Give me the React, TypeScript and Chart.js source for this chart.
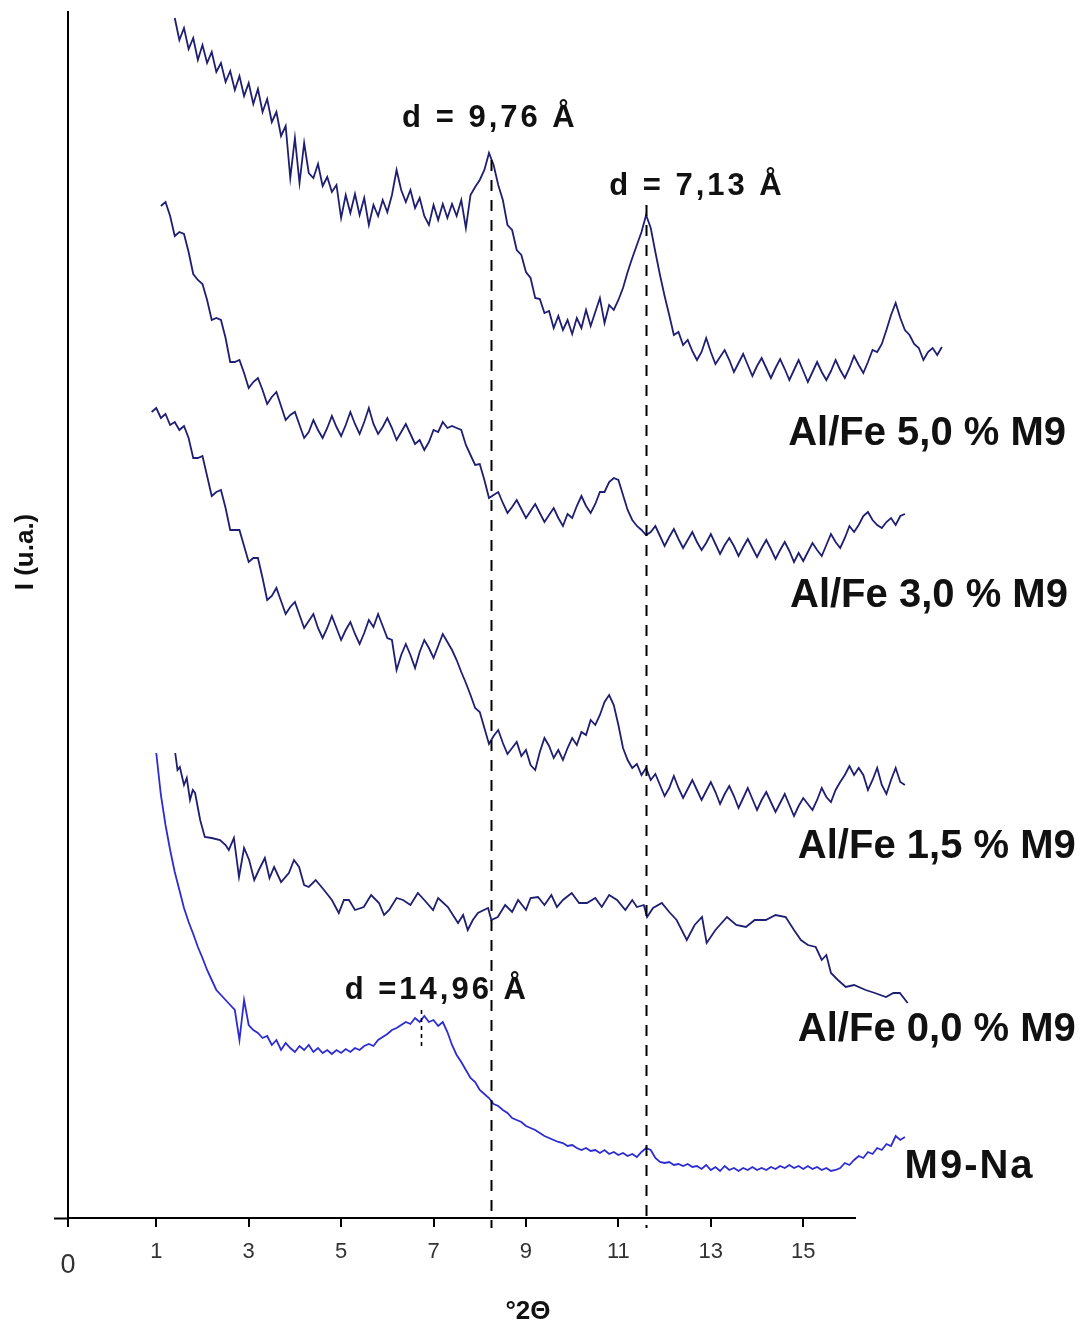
import React, { useEffect, useRef } from "react";
import { Chart, registerables } from "chart.js";

Chart.register(...registerables);

// ---- axis ranges and ticks (°2θ, arbitrary intensity units) ----
const X_MIN = -0.91;
const X_MAX = 16.12;
const Y_MIN = 0;
const Y_MAX = 120.6;
const X_TICKS = [X_MIN, 1, 3, 5, 7, 9, 11, 13, 15];
const X_TICK_LABELS = ["0", "1", "3", "5", "7", "9", "11", "13", "15"];
const STEP = 0.1;

// ---- series: Al/Fe 5,0 % M9 (x from 1.4, step 0.1) ----
const alfe50Start = 1.4;
const alfe50 = [
  120.0, 117.8, 119.0, 116.9, 118.0, 115.8,
  117.3, 115.5, 116.6, 114.6, 115.5, 113.6, 114.7, 112.8, 114.2, 112.2,
  113.5, 111.4, 112.9, 110.6, 111.9, 109.6, 110.6, 108.2, 109.2, 104.0,
  108.0, 103.5, 107.5, 104.5, 104.0, 105.4, 103.2, 104.1, 102.6, 103.3,
  100.0, 102.3, 100.5, 102.4, 100.3, 102.0, 99.3, 101.3, 100.2, 101.8,
  100.6, 102.3, 104.8, 102.8, 101.6, 102.8, 101.0, 102.0, 100.2, 99.3,
  101.3, 99.8, 101.4, 100.0, 101.4, 100.2, 101.8, 99.0, 102.3, 103.1,
  103.8, 104.8, 106.5, 105.3, 103.3, 101.8, 99.3, 98.8, 96.8, 96.3,
  94.6, 94.0, 92.0, 91.9, 90.5, 90.7, 89.0, 90.2, 88.8, 89.8,
  88.4, 90.0, 89.0, 90.8, 89.2, 90.6, 92.0, 89.5, 91.3, 90.8,
  91.8, 93.0, 94.6, 96.0, 97.3, 98.6, 100.3, 99.0, 96.6, 94.3,
  92.2, 90.3, 88.3, 88.6, 87.3, 87.8, 86.7, 85.8, 86.6, 88.0,
  86.6, 85.4, 86.1, 86.8, 85.8, 84.6, 85.5, 86.4, 85.3, 84.2,
  85.2, 86.0, 85.0, 84.0, 85.0, 85.9, 84.9, 83.8, 84.8, 85.8,
  84.7, 83.6, 84.6, 85.6, 84.6, 83.8, 84.7, 85.8, 84.8, 84.0,
  85.0, 86.2, 85.3, 84.5, 85.6, 86.8, 86.6, 87.4, 88.8, 90.3,
  91.5, 90.0, 88.8, 88.3, 87.4, 87.0, 85.8, 86.6, 87.0, 86.3,
  87.1,
];

// ---- series: Al/Fe 3,0 % M9 (x from 1.1) ----
const alfe30Start = 1.1;
const alfe30 = [
  101.2, 101.6, 100.2, 98.2, 98.6, 98.4, 96.6, 94.4, 93.8,
  93.4, 91.8, 89.8, 90.0, 89.8, 88.0, 85.6, 85.6, 85.8, 84.5,
  83.0, 83.6, 84.0, 82.8, 81.4, 82.1, 82.6, 81.2, 79.8, 80.3,
  80.6, 79.3, 78.0, 78.6, 79.8, 78.8, 78.0, 79.0, 80.2, 79.1,
  78.2, 79.3, 80.6, 79.4, 78.4, 79.6, 81.0, 79.4, 78.4, 79.1,
  80.0, 79.0, 77.8, 78.6, 79.4, 78.4, 77.4, 77.8, 76.8, 77.6,
  78.8, 78.6, 79.6, 79.0, 79.2, 79.0, 78.8, 77.3, 76.3, 75.3,
  75.4, 73.8, 72.0, 72.3, 72.6, 71.5, 70.5, 71.1, 71.8, 70.9,
  70.0, 70.7, 71.4, 70.5, 69.6, 70.3, 71.0, 70.0, 69.2, 70.4,
  70.0, 71.2, 72.2, 71.2, 70.5, 71.4, 72.6, 72.6, 73.6, 74.0,
  73.8, 72.3, 70.8, 69.8, 69.2, 68.8, 68.3, 68.6, 69.2, 68.2,
  67.2, 68.1, 68.9, 67.9, 67.0, 67.8, 68.6, 67.6, 66.8, 67.5,
  68.4, 67.4, 66.4, 67.3, 68.0, 67.2, 66.2, 67.1, 67.9, 67.0,
  66.1, 67.0, 67.8, 66.9, 65.9, 66.8, 67.6, 66.7, 65.6, 66.5,
  65.7, 66.6, 67.5, 66.8, 66.2, 67.3, 68.4, 67.6, 67.0, 68.0,
  69.2, 68.6, 69.3, 70.2, 70.6, 69.8, 69.3, 69.0, 69.6, 70.0,
  69.3, 70.2, 70.4,
];

// ---- series: Al/Fe 1,5 % M9 (x from 0.9) ----
const alfe15Start = 0.9;
const alfe15 = [
  80.6,
  81.0, 80.0, 80.4, 79.3, 79.6, 78.8, 79.2, 78.0, 76.0, 76.0,
  76.2, 74.2, 72.2, 72.6, 72.8, 71.0, 68.8, 68.8, 68.8, 67.2,
  65.6, 66.0, 66.0, 64.0, 61.8, 62.2, 63.0, 61.7, 60.4, 61.1,
  61.6, 60.3, 59.0, 59.7, 60.4, 59.0, 58.0, 59.0, 60.2, 59.0,
  57.8, 58.8, 59.6, 58.4, 57.4, 58.5, 59.8, 59.1, 60.4, 59.2,
  58.0, 57.8, 54.8, 56.3, 57.4, 56.3, 55.0, 56.6, 57.8, 57.0,
  56.0, 57.2, 58.4, 57.6, 56.8, 55.8, 54.6, 53.5, 52.3, 51.0,
  50.6, 49.0, 47.4, 48.2, 48.8, 47.5, 46.4, 47.0, 47.6, 46.2,
  46.8, 45.3, 44.8, 46.6, 48.0, 47.2, 46.0, 46.8, 45.8, 47.0,
  48.0, 47.3, 48.6, 48.3, 49.8, 49.3, 50.3, 51.6, 52.3, 51.3,
  49.3, 47.0, 45.8, 45.0, 45.4, 44.3, 45.0, 43.8, 44.4, 43.3,
  42.2, 43.0, 44.2, 43.0, 42.0, 42.9, 43.8, 42.8, 41.8, 42.7,
  43.6, 42.6, 41.4, 42.4, 43.2, 42.2, 41.0, 42.0, 43.0, 41.9,
  40.8, 41.8, 42.6, 41.6, 40.6, 41.5, 42.4, 41.3, 40.2, 41.2,
  42.0, 41.4, 40.8, 41.8, 43.0, 42.1, 41.6, 42.8, 43.6, 44.3,
  45.2, 44.3, 45.0, 44.3, 42.8, 43.8, 45.0, 43.3, 42.4, 43.8,
  45.0, 43.6, 43.3,
];

// ---- series: Al/Fe 0,0 % M9 (irregular x) ----
const alfe00X = [
  1.41, 1.46, 1.51, 1.6, 1.66, 1.73, 1.79, 1.84, 1.95, 2.05,
  2.2, 2.38, 2.5, 2.57, 2.68, 2.79, 2.9, 3.01, 3.12, 3.22,
  3.35, 3.45, 3.55, 3.7, 3.87, 3.98, 4.09, 4.2, 4.3, 4.45,
  4.63, 4.8, 4.95, 5.06, 5.17, 5.3, 5.49, 5.65, 5.82, 5.93,
  6.04, 6.2, 6.34, 6.5, 6.66, 6.8, 6.99, 7.1, 7.31, 7.53,
  7.64, 7.74, 7.85, 7.96, 8.18, 8.25, 8.39, 8.55, 8.7, 8.83,
  9.0, 9.1, 9.26, 9.4, 9.55, 9.67, 9.8, 9.99, 10.15, 10.32,
  10.5, 10.64, 10.8, 10.97, 11.15, 11.3, 11.4, 11.55, 11.62, 11.75,
  11.94, 12.1, 12.26, 12.48, 12.65, 12.81, 12.91, 13.1, 13.35, 13.55,
  13.76, 13.95, 14.19, 14.4, 14.62, 14.8, 14.95, 15.1, 15.27, 15.4,
  15.5, 15.6, 15.75, 15.92, 16.1, 16.35, 16.55, 16.79, 16.95, 17.09,
  17.26,
];
const alfe00 = [
  46.5, 44.8, 45.1, 43.3, 44.0, 41.8, 42.8, 42.5, 39.8, 38.1,
  38.0, 37.8, 37.3, 36.8, 38.0, 34.1, 37.0, 35.8, 33.8, 34.8,
  36.0, 34.0, 35.1, 33.6, 34.5, 35.8, 35.1, 33.3, 33.1, 33.8,
  32.8, 31.8, 30.5, 31.8, 31.8, 30.8, 31.1, 32.3, 31.5, 30.3,
  30.8, 32.0, 31.8, 31.3, 32.5, 31.8, 30.8, 32.0, 31.1, 29.5,
  30.3, 28.8, 29.8, 30.5, 31.0, 29.8, 30.1, 31.3, 30.6, 31.8,
  30.8, 32.0, 32.1, 31.3, 32.3, 31.1, 31.8, 32.5, 31.5, 31.5,
  32.0, 31.1, 32.3, 31.8, 30.8, 31.8, 31.1, 31.3, 30.1, 31.0,
  31.5, 30.6, 29.8, 27.8, 29.3, 30.1, 27.5, 28.8, 30.1, 29.3,
  29.1, 29.8, 29.8, 30.3, 30.1, 28.8, 27.8, 27.3, 27.1, 25.8,
  26.3, 24.5, 23.8, 23.1, 23.3, 22.8, 22.5, 22.1, 22.5, 22.5,
  21.5,
];

// ---- series: M9-Na (x from 1.0) ----
const m9naStart = 1.0;
const m9na = [
  46.5, 42.3, 39.3, 36.8, 34.6, 32.8, 31.0, 29.6, 28.4, 27.1,
  26.0, 24.8, 23.8, 22.8, 22.3, 21.8, 21.3, 20.8, 17.8, 21.8,
  19.3, 18.8, 18.5, 18.0, 18.2, 17.3, 17.8, 16.8, 17.5, 17.0,
  16.6, 17.2, 16.8, 17.3, 16.6, 17.0, 16.5, 16.8, 16.4, 16.8,
  16.5, 16.9, 16.6, 17.0, 16.8, 17.2, 17.4, 17.2, 17.8, 18.1,
  18.4, 18.8, 19.0, 19.3, 19.6, 19.4, 20.0, 19.6, 20.2, 19.6,
  19.8, 19.2, 19.6, 18.6, 17.3, 16.3, 15.6, 14.8, 14.0, 13.6,
  12.8, 12.4, 12.0, 11.4, 11.2, 10.8, 10.5, 10.0, 9.8, 9.6,
  9.2, 9.0, 8.8, 8.5, 8.2, 8.0, 7.8, 7.6, 7.5, 7.2,
  7.3, 7.0, 6.8, 7.0, 6.7, 6.8, 6.5, 6.8, 6.4, 6.6,
  6.3, 6.5, 6.2, 6.4, 6.1, 6.6, 7.0, 6.8, 6.0, 5.6,
  5.5, 5.6, 5.3, 5.4, 5.2, 5.4, 5.1, 5.2, 4.9, 5.3,
  4.8, 5.1, 4.7, 5.2, 4.8, 5.0, 4.7, 5.0, 4.8, 5.1,
  4.8, 5.0, 4.8, 5.1, 4.9, 5.2, 5.0, 5.3, 5.0, 5.2,
  4.9, 5.2, 4.9, 5.1, 4.8, 5.0, 4.7, 4.8, 5.0, 5.5,
  5.3, 5.8, 6.2, 6.0, 6.6, 6.4, 7.0, 6.8, 7.4, 7.2,
  8.2, 7.8, 8.1,
];

// ---- reference lines and annotations (data coordinates) ----
const REF_X = [8.24, 11.59];
const REF_TOP = [105.8, 101.3];
const REF_BOTTOM = -1.0;
const DOT_X = 6.73;
const DOT_RANGE = [20.8, 17.1];
const PEAK_LABELS = ["d = 9,76 Å", "d = 7,13 Å", "d =14,96 Å"];
const PEAK_LABEL_X = [8.22, 12.7, 7.07];
const PEAK_LABEL_Y = [110.0, 103.2, 22.8];
const SERIES_NAMES = ["Al/Fe 5,0 % M9", "Al/Fe 3,0 % M9", "Al/Fe 1,5 % M9", "Al/Fe 0,0 % M9", "M9-Na"];
const NAME_X = [17.68, 17.72, 17.89, 17.89, 18.6];
const NAME_Y = [78.4, 62.2, 37.1, 18.8, 5.1];
const X_TITLE = "°2Θ";
const Y_TITLE = "I (u.a.)";

const DARK = "#1e1e72";
const BLUE = "#2c2cd2";
const FONT = "'Liberation Sans', Arial, sans-serif";

function onGrid(start: number, values: number[]) {
  return values.map((y, i) => ({ x: Math.round((start + i * STEP) * 100) / 100, y }));
}
function zipXY(xs: number[], ys: number[]) {
  const n = Math.min(xs.length, ys.length);
  const out: { x: number; y: number }[] = [];
  for (let i = 0; i < n; i++) out.push({ x: xs[i], y: ys[i] });
  return out;
}

const decorPlugin = {
  id: "xrdDecor",
  afterDatasetsDraw(chart: any) {
    const { ctx, chartArea, scales } = chart;
    const xs = scales.x;
    const ys = scales.y;
    ctx.save();
    ctx.strokeStyle = "#000";
    ctx.lineWidth = 2;
    // small extension of the x axis to the left of the origin
    ctx.beginPath();
    ctx.moveTo(chartArea.left - 14, chartArea.bottom + 0.5);
    ctx.lineTo(chartArea.left, chartArea.bottom + 0.5);
    ctx.stroke();
    // dashed reference lines
    ctx.setLineDash([11, 9]);
    for (let i = 0; i < REF_X.length; i++) {
      const px = Math.round(xs.getPixelForValue(REF_X[i])) + 0.5;
      ctx.beginPath();
      ctx.moveTo(px, ys.getPixelForValue(REF_TOP[i]));
      ctx.lineTo(px, ys.getPixelForValue(REF_BOTTOM));
      ctx.stroke();
    }
    // dotted marker for 14,96 Å
    ctx.setLineDash([4, 4]);
    ctx.lineWidth = 1.6;
    {
      const px = Math.round(xs.getPixelForValue(DOT_X)) + 0.5;
      ctx.beginPath();
      ctx.moveTo(px, ys.getPixelForValue(DOT_RANGE[0]));
      ctx.lineTo(px, ys.getPixelForValue(DOT_RANGE[1]));
      ctx.stroke();
    }
    ctx.setLineDash([]);
    // texts
    ctx.fillStyle = "#111";
    ctx.textAlign = "center";
    ctx.textBaseline = "middle";
    ctx.font = "bold 31px " + FONT;
    try { (ctx as any).letterSpacing = "3px"; } catch (e) {}
    for (let i = 0; i < PEAK_LABELS.length; i++) {
      ctx.fillText(PEAK_LABELS[i], xs.getPixelForValue(PEAK_LABEL_X[i]), ys.getPixelForValue(PEAK_LABEL_Y[i]));
    }
    try { (ctx as any).letterSpacing = "0px"; } catch (e) {}
    ctx.font = "bold 40px " + FONT;
    for (let i = 0; i < SERIES_NAMES.length; i++) {
      if (i === SERIES_NAMES.length - 1) {
        try { (ctx as any).letterSpacing = "2px"; } catch (e) {}
      }
      ctx.fillText(SERIES_NAMES[i], xs.getPixelForValue(NAME_X[i]), ys.getPixelForValue(NAME_Y[i]));
    }
    try { (ctx as any).letterSpacing = "0px"; } catch (e) {}
    // axis titles
    ctx.font = "bold 26px " + FONT;
    ctx.fillText(X_TITLE, 528, 1312);
    ctx.translate(26, 552);
    ctx.rotate(-Math.PI / 2);
    ctx.fillText(Y_TITLE, 0, 0);
    ctx.restore();
  },
};

export default function App() {
  const canvasRef = useRef<HTMLCanvasElement | null>(null);

  useEffect(() => {
    const canvas = canvasRef.current;
    if (!canvas) return;
    const lineDs = (label: string, data: any[], color: string) => ({
      label,
      data,
      borderColor: color,
      backgroundColor: color,
      borderWidth: 1.8,
      pointRadius: 0,
      tension: 0,
      fill: false,
      clip: false as any,
    });
    const chart = new Chart(canvas, {
      type: "line",
      data: {
        datasets: [
          lineDs(SERIES_NAMES[0], onGrid(alfe50Start, alfe50), DARK),
          lineDs(SERIES_NAMES[1], onGrid(alfe30Start, alfe30), DARK),
          lineDs(SERIES_NAMES[2], onGrid(alfe15Start, alfe15), DARK),
          lineDs(SERIES_NAMES[3], zipXY(alfe00X, alfe00), DARK),
          lineDs(SERIES_NAMES[4], onGrid(m9naStart, m9na), BLUE),
        ],
      },
      options: {
        animation: false,
        responsive: false,
        devicePixelRatio: 1,
        layout: { padding: { left: 0, right: 237, top: 12, bottom: 0 } },
        plugins: {
          legend: { display: false },
          tooltip: { enabled: false },
          title: { display: false },
        },
        scales: {
          x: {
            type: "linear",
            bounds: "data",
            afterDataLimits: (scale: any) => {
              scale.min = X_MIN;
              scale.max = X_MAX;
            },
            afterBuildTicks: (scale: any) => {
              scale.ticks = X_TICKS.map((v) => ({ value: v }));
            },
            afterFit: (scale: any) => {
              scale.height = 112;
            },
            grid: {
              display: true,
              drawOnChartArea: false,
              drawTicks: true,
              tickLength: 9,
              color: "#000",
              lineWidth: 2,
            },
            border: { display: true, color: "#000", width: 2 },
            ticks: {
              autoSkip: false,
              maxRotation: 0,
              padding: 12,
              color: "#333",
              font: (c: any) =>
                c.tick && c.tick.value === X_MIN
                  ? { family: FONT, size: 27, lineHeight: 2.0 }
                  : { family: FONT, size: 22, lineHeight: 1.2 },
              callback: (value: any) => {
                const i = X_TICKS.indexOf(Number(value));
                return i >= 0 ? X_TICK_LABELS[i] : "";
              },
            },
            title: { display: false },
          },
          y: {
            type: "linear",
            min: Y_MIN,
            max: Y_MAX,
            afterFit: (scale: any) => {
              scale.width = 68;
            },
            grid: { display: false },
            border: { display: true, color: "#000", width: 2 },
            ticks: { display: false },
            title: { display: false },
          },
        },
      },
      plugins: [decorPlugin],
    } as any);
    return () => chart.destroy();
  }, []);

  return (
    <div style={{ position: "absolute", left: 0, top: 0, width: 1092, height: 1330, background: "#fff" }}>
      <canvas ref={canvasRef} width={1092} height={1330} />
    </div>
  );
}
